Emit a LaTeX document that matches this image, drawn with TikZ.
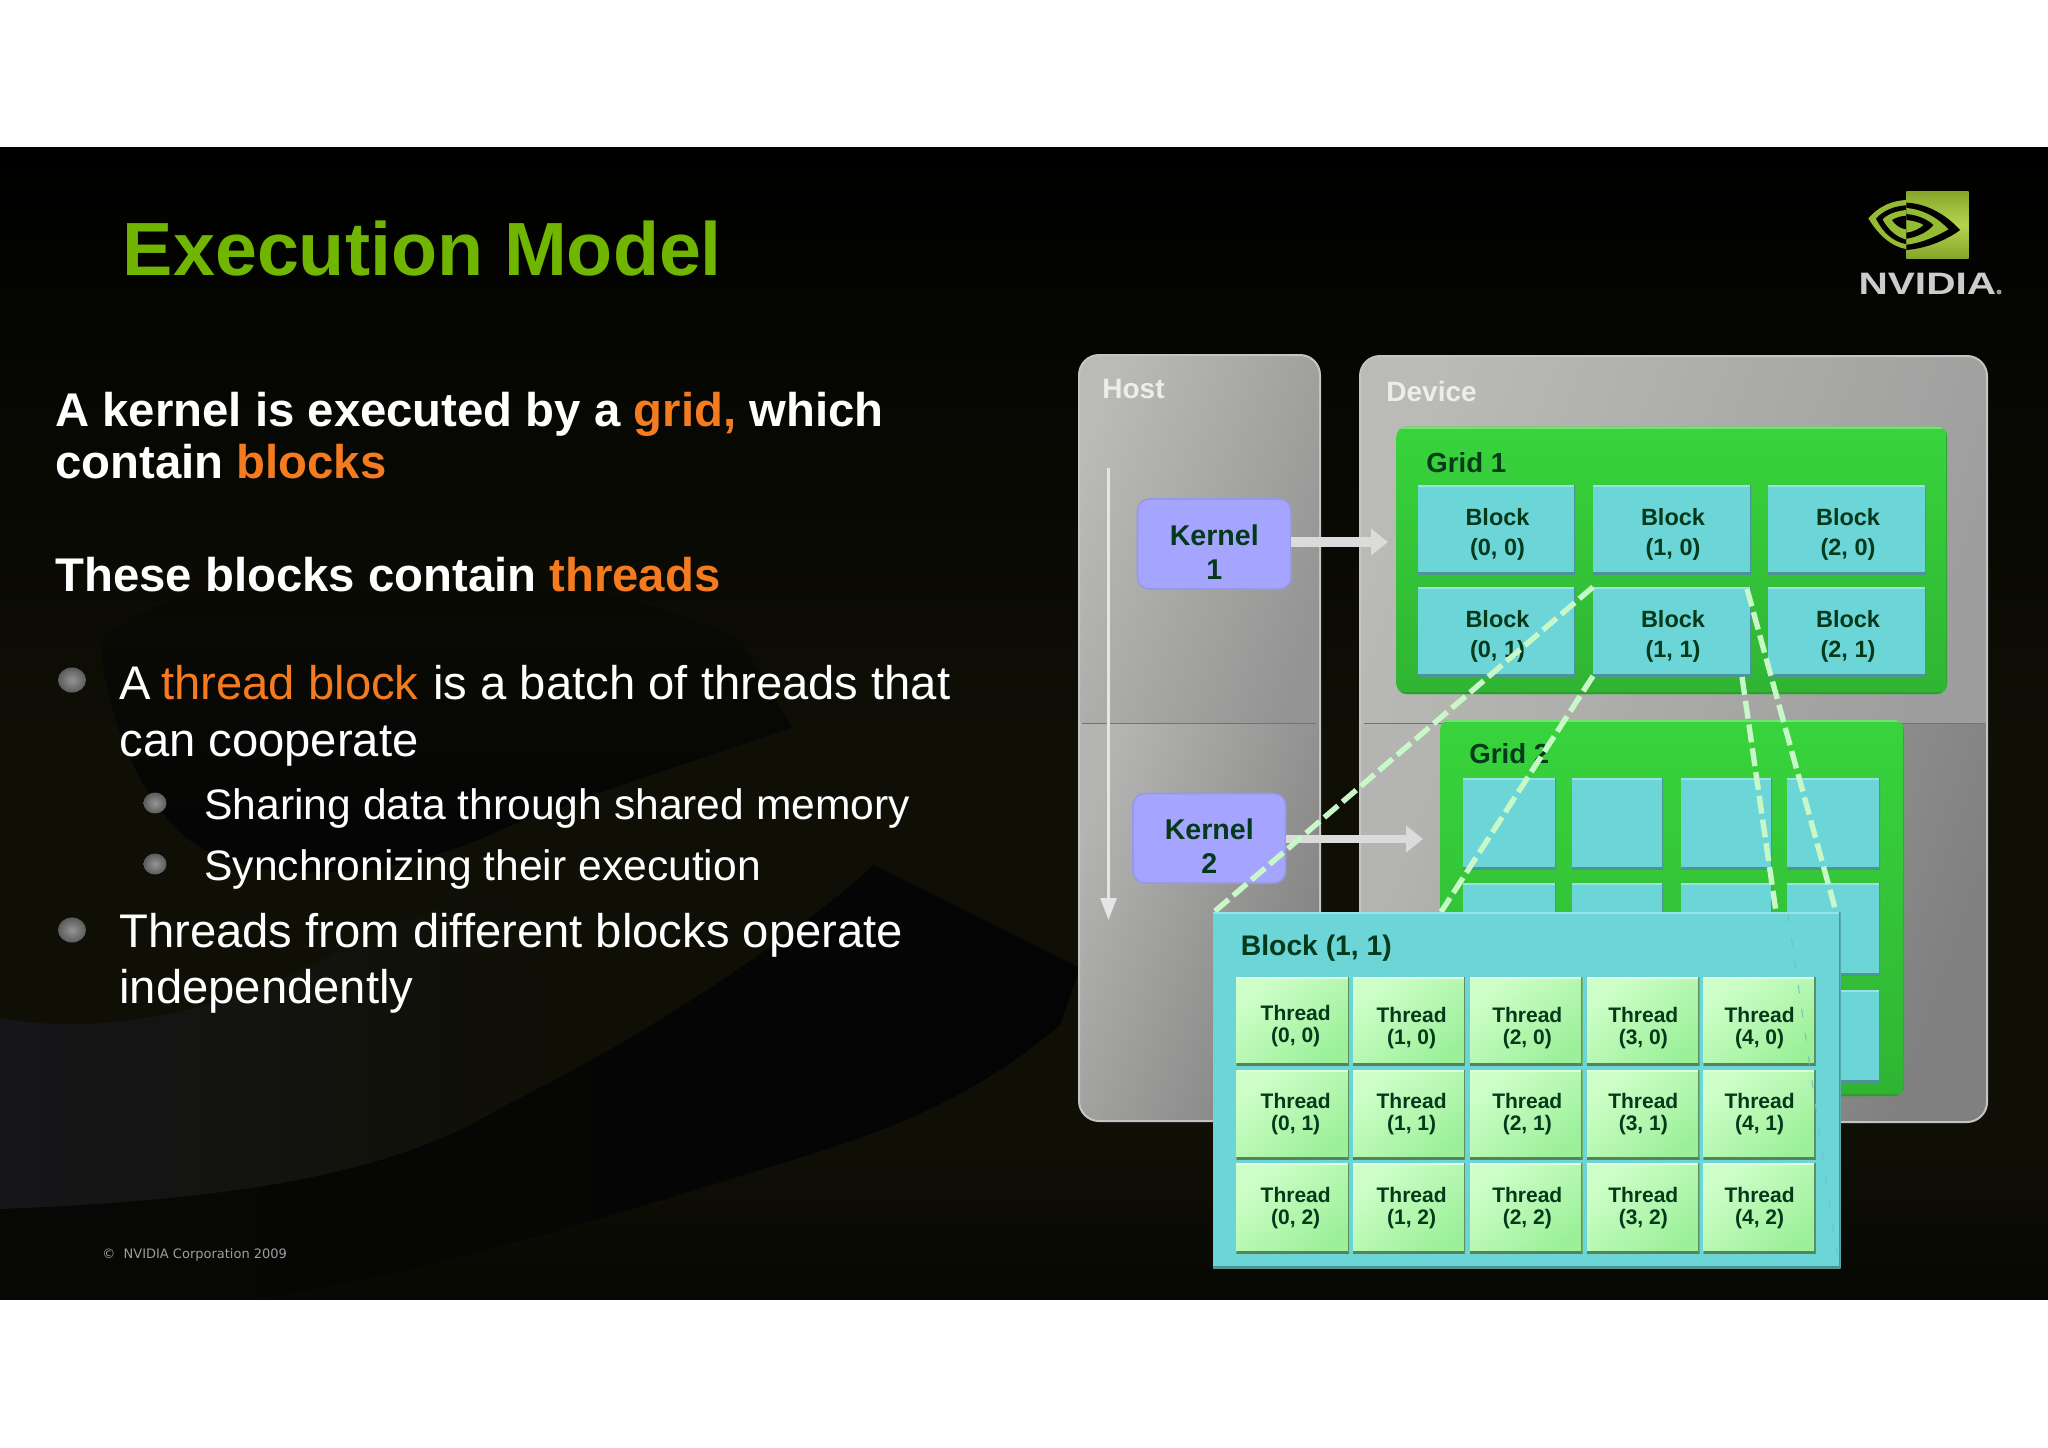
\documentclass[tikz,border=0pt]{standalone}
\usepackage{fontspec}
\setmainfont{Liberation Sans}
\usetikzlibrary{arrows.meta}
\definecolor{olive}{HTML}{0F0F06}
\definecolor{olivedk}{HTML}{080804}
\definecolor{bandgray}{HTML}{161619}
\definecolor{nearblack}{HTML}{040405}
\definecolor{txtgreen}{HTML}{04391A}
\definecolor{orangeT}{HTML}{F47B20}
\definecolor{titlegreen}{HTML}{70B500}
\definecolor{cyanB}{HTML}{6BD5D8}
\definecolor{gridG}{HTML}{38D43C}
\definecolor{dashG}{HTML}{C8F7C8}
\definecolor{purpleK}{HTML}{A5A5FF}
\definecolor{thrA}{HTML}{CFFFC9}
\definecolor{thrB}{HTML}{9CF09A}
\definecolor{lightP}{HTML}{BABAB6}
\definecolor{lightQ}{HTML}{B4B4B2}
\definecolor{logoG}{HTML}{95BA34}
\definecolor{logoL}{HTML}{B5D44E}
\definecolor{logoD}{HTML}{86A62A}
\newcommand{\myfs}[1]{\fontsize{#1}{#1}\selectfont}
\newcommand{\bx}[7]{%
  \pgfmathsetmacro{\bxX}{(#3+#5)/2}\pgfmathsetmacro{\bxY}{(#4+#6)/2}%
  \pgfmathsetmacro{\bxW}{(#5-#3)/2}\pgfmathsetmacro{\bxH}{(#6-#4)/2}%
  \node[#1,minimum width=\bxW pt,minimum height=\bxH pt] (#2) at (\bxX,\bxY) {#7};}
\newcommand{\lb}[5]{\node[#1] (#2-l) at ([shift={(#3,#4)}]#2.center) {#5};}
\tikzset{
  bevel/.style n args={3}{path picture={
    \path (path picture bounding box.north west) coordinate (bnw)
          (path picture bounding box.south east) coordinate (bse);
    \draw[#1,line width=2pt] (bnw) -- (bnw -| bse);
    \draw[#2,line width=2.4pt] (bnw |- bse) -- (bse);
    \draw[#3,line width=1.4pt] (bse) -- (bse |- bnw);}},
  plainbox/.style={inner sep=0pt,outer sep=0pt,align=center,text=txtgreen,font=\bfseries},
  panelbox/.style={inner sep=0pt,outer sep=0pt,rounded corners=10pt,draw=white!77!black,line width=1pt},
  gridbox/.style={plainbox,rounded corners=5pt,top color=gridG,bottom color=gridG!85!black,
     bevel={gridG!70!white}{gridG!75!black}{gridG!80!black}},
  blockbox/.style={plainbox,fill=cyanB,bevel={cyanB!70!white}{cyanB!70!black}{cyanB!70!black}},
  blocklab/.style={plainbox,font=\bfseries\fontsize{11.75}{15}\selectfont},
  threadbox/.style={plainbox,top color=thrA,bottom color=thrB,shading angle=40,
     bevel={thrA!70!white}{thrB!55!black}{thrB!60!black}},
  threadlab/.style={plainbox,font=\bfseries\fontsize{10.5}{11}\selectfont},
  kernelbox/.style={plainbox,rounded corners=6pt,fill=purpleK,draw=purpleK!92!black,line width=.8pt},
  kernellab/.style={plainbox,font=\bfseries\fontsize{14.3}{17.2}\selectfont},
  panellabel/.style={inner sep=0pt,anchor=base west,text=white!93!black,font=\bfseries\myfs{14}},
  dashline/.style={draw=dashG,line width=2.7pt,dash pattern=on 9pt off 3pt},
  flowarrow/.style={draw=white!86!black,line width=#1,-{Triangle[length=8.5pt,width=13pt]}},
  ttl/.style={inner sep=0pt,anchor=base west,text=white},
  hb/.style={ttl,font=\bfseries\myfs{23.65}},
  rg/.style={ttl,font=\myfs{23.6}},
  sb/.style={ttl,font=\myfs{21.3}},
}
\begin{document}
\begin{tikzpicture}[x=.5pt,y=-.5pt]
\useasboundingbox (0,0) rectangle (2048,1447);
\fill[white] (0,0) rectangle (2048,1447);
% slide background
\fill[olive] (0,147) rectangle (2048,1299);
\shade[top color=black,bottom color=olive] (0,147) rectangle (2048,740);
\shade[top color=olive,bottom color=olivedk] (0,1150) rectangle (2048,1299);
\shade[left color=bandgray,right color=olive]
  (0,1018) .. controls (120,1040) and (250,1000) .. (340,950)
  .. controls (420,910) and (470,900) .. (520,880) -- (560,1090) -- (500,1110)
  .. controls (400,1170) and (250,1200) .. (0,1209) -- cycle;
\shade[left color=nearblack!70!olive,right color=nearblack]
  (0,1209) .. controls (250,1200) and (400,1170) .. (500,1108)
  .. controls (620,1050) and (780,950) .. (874,865) -- (1080,968) -- (1060,1025)
  .. controls (960,1110) and (860,1140) .. (759,1170)
  .. controls (600,1220) and (400,1280) .. (250,1299) -- (0,1299) -- cycle;
\shade[top color=olive!72!black,bottom color=nearblack]
  (100,640) .. controls (105,700) and (130,790) .. (187,838)
  .. controls (250,890) and (400,880) .. (500,830)
  .. controls (600,790) and (700,760) .. (792,727) -- (740,640)
  .. controls (600,570) and (250,520) .. cycle;
% title and text
\node[ttl,text=titlegreen,font=\bfseries\myfs{37.7}] (title) at (122.5,275) {Execution Model};
\node[hb] (l1) at (55,426) {A kernel is executed by a \textcolor{orangeT}{grid,} which};
\node[hb] (l2) at (55,478) {contain \textcolor{orangeT}{blocks}};
\node[hb] (l3) at (55,591.5) {These blocks contain \textcolor{orangeT}{threads}};
\node[rg] (l4) at (119,699) {A \kern-1.3pt\textcolor{orangeT}{thread block} \kern.9pt is a batch of threads that};
\node[rg] (l5) at (119,756.5) {can cooperate};
\node[sb] (l6) at (204,819) {Sharing data through shared memory};
\node[sb] (l7) at (204,880) {Synchronizing their execution};
\node[rg] (l8) at (119,947) {Threads from different blocks operate};
\node[rg] (l9) at (119,1003.5) {independently};
\foreach \bxx/\byy/\brx/\bry in {72/680/14/12.5,155/803/11.5/10.5,155/864/11.5/10.5,72/930/14/12.5}
  \shade[inner color=white!58!black,outer color=white!36!black] (\bxx,\byy) ellipse[x radius=\brx,y radius=\bry];
\node[inner sep=0pt,anchor=base west,text=white!62!black,font=\fontspec{DejaVu Sans}\fontsize{6.5}{8}\selectfont] (copy) at (102,1258) {©\ \ NVIDIA Corporation 2009};
% logo
\begin{scope}[shift={(1820,170)},x=.1667pt,y=-.1667pt]
  \shade[top color=logoD,bottom color=logoD,middle color=logoL] (259,64) rectangle (446,264);
  \begin{scope}
    \clip (100,0) rectangle (258,300);
    \fill[logoG] (145,145) .. controls (180,105) and (220,92) .. (258,90) -- (258,237) .. controls (215,230) and (175,195) .. cycle;
    \fill[black] (168,146) .. controls (190,120) and (225,108) .. (258,106) -- (258,222) .. controls (220,215) and (190,190) .. cycle;
    \fill[logoG] (188,148) .. controls (205,130) and (235,122) .. (258,120) -- (258,208) .. controls (230,202) and (203,177) .. cycle;
    \fill[black] (216,150) .. controls (228,142) and (245,138) .. (258,137) -- (258,178) .. controls (240,175) and (225,165) .. cycle;
  \end{scope}
  \fill[black] (259,98) .. controls (320,100) and (380,135) .. (420,180) .. controls (380,210) and (320,235) .. (259,240) -- cycle;
  \fill[logoG] (259,114) .. controls (310,118) and (355,145) .. (385,178) .. controls (355,195) and (310,218) .. (259,224) -- cycle;
  \fill[black] (259,132) .. controls (295,135) and (325,150) .. (340,165) .. controls (325,185) and (290,202) .. (259,206) -- cycle;
  \fill[logoG] (259,150) .. controls (280,152) and (300,158) .. (310,165) .. controls (300,175) and (280,185) .. (259,188) -- cycle;
\end{scope}
\node[inner sep=0pt,anchor=base west,text=white!80!black,font=\bfseries\myfs{15.5},xscale=1.31] (nv) at (1858,294) {NVIDIA};
\fill[white!60!black] (1999,292) circle[radius=2.5];
% panels
\begin{scope}
  \clip[rounded corners=10pt] (1079,355) rectangle (1320,1121);
  \shade[top color=lightP,bottom color=white!58!black,shading angle=70] (1079,355) rectangle (1320,723);
  \shade[top color=lightQ,bottom color=white!50!black,shading angle=70] (1079,723) rectangle (1320,1121);
  \draw[white!45!black,line width=.5pt] (1082,723) -- (1316,723);
\end{scope}
\begin{scope}
  \clip[rounded corners=10pt] (1360,356) rectangle (1987,1122);
  \shade[top color=lightP,bottom color=white!62!black,shading angle=70] (1360,356) rectangle (1987,723);
  \shade[top color=lightQ,bottom color=white!50!black,shading angle=70] (1360,723) rectangle (1987,1122);
  \draw[white!45!black,line width=.5pt] (1364,723) -- (1983,723);
\end{scope}
\bx{panelbox}{host}{1079}{355}{1320}{1121}{}
\bx{panelbox}{device}{1360}{356}{1987}{1122}{}
\node[panellabel] (hostlab) at (1102,398) {Host};
\node[panellabel] (devlab) at (1386,401) {Device};
% grid 1
\bx{gridbox}{grid1}{1396.5}{426.5}{1947}{694}{}
\node[panellabel,text=txtgreen,font=\bfseries\myfs{13.8}] (g1lab) at (1426,472) {Grid 1};
\foreach \nm/\xa/\xb/\ya/\yb/\tx in {b00/1418/1575/485/574/{Block\\(0, 0)},b10/1593/1751/485/574/{Block\\(1, 0)},b20/1768/1926/485/574/{Block\\(2, 0)},b01/1418/1575/587/676/{Block\\(0, 1)},b11/1593/1751/587/676/{Block\\(1, 1)},b21/1768/1926/587/676/{Block\\(2, 1)}}{
  \bx{blockbox}{\nm}{\xa}{\ya}{\xb}{\yb}{}
  \lb{blocklab}{\nm}{1}{5}{\tx}
}
% grid 2
\bx{gridbox}{grid2}{1440}{720}{1904}{1096}{}
\node[panellabel,text=txtgreen,font=\bfseries\myfs{13.8}] (g2lab) at (1469,763) {Grid 2};
\bx{blockbox}{ga1}{1463}{778}{1556}{869}{}
\bx{blockbox}{ga2}{1572}{778}{1663}{869}{}
\bx{blockbox}{ga3}{1681}{778}{1772}{869}{}
\bx{blockbox}{ga4}{1787}{778}{1880}{869}{}
\bx{blockbox}{gb1}{1463}{883}{1556}{975}{}
\bx{blockbox}{gb2}{1572}{883}{1663}{975}{}
\bx{blockbox}{gb3}{1681}{883}{1772}{975}{}
\bx{blockbox}{gb4}{1787}{883}{1880}{975}{}
\bx{blockbox}{gc4}{1787}{990}{1880}{1082}{}
% kernels
\bx{kernelbox}{k1}{1137.5}{499}{1291}{589}{}
\bx{kernelbox}{k2}{1133}{793.5}{1285.6}{883}{}
\lb{kernellab}{k1}{0}{8}{Kernel\\1}
\lb{kernellab}{k2}{0}{8}{Kernel\\2}
\coordinate (a1) at (1388,542);
\coordinate (a2) at (1423,839);
\draw[flowarrow=5pt] (k1.east |- a1) -- (a1);
\draw[flowarrow=3.6pt] (k2.east |- a2) -- (a2);
\coordinate (vs) at (1108.5,468);
\coordinate (ve) at (1108.5,920);
\draw[draw=white!90!black,line width=1.4pt,-{Triangle[length=11pt,width=8pt]}] (vs) -- (ve);
% zoom lines
\coordinate (z1) at (1214,912);
\coordinate (z2) at (1441,912);
\coordinate (z3) at (1776,912);
\coordinate (z4) at (1836,912);
\coordinate (c3) at (1742,677);
\coordinate (c4) at (1747,589);
\draw[dashline] (b11.north west) -- (z1);
\draw[dashline] (b11.south west) -- (z2);
\draw[dashline] (c3) -- (z3);
\draw[dashline] (c4) -- (z4);
% block (1,1)
\bx{blockbox}{big}{1212.5}{912}{1840.5}{1268}{}
\node[panellabel,text=txtgreen,font=\bfseries\myfs{14.15}] (biglab) at (1240.5,955) {Block (1, 1)};
\foreach \xa/\xb/\cc/\dx in {1236.4/1349/0/3,1353/1465.4/1/2.4,1470/1582.5/2/1,1587/1699.5/3/0,1703.4/1815.8/4/0}{
  \bx{threadbox}{t\cc 0}{\xa}{977}{\xb}{1065}{}
  \bx{threadbox}{t\cc 1}{\xa}{1070}{\xb}{1159}{}
  \bx{threadbox}{t\cc 2}{\xa}{1163}{\xb}{1253}{}
  \pgfmathsetmacro{\dya}{\cc==0 ? 5.5 : 7.5}
  \lb{threadlab}{t\cc 0}{\dx}{\dya}{Thread\\(\cc, 0)}
  \lb{threadlab}{t\cc 1}{\dx}{0}{Thread\\(\cc, 1)}
  \lb{threadlab}{t\cc 2}{\dx}{0}{Thread\\(\cc, 2)}
}
\coordinate (fa) at (1788,914);
\coordinate (fb) at (1838,1262);
\draw[cyanB!75!gray,line width=.5pt,dash pattern=on 4pt off 8pt] (fa) -- (fb);
\end{tikzpicture}
\end{document}
